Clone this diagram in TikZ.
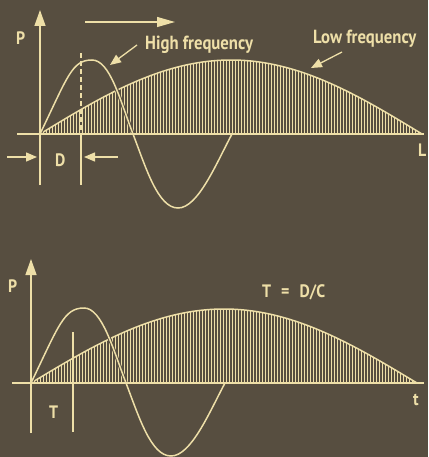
\documentclass[tikz,border=0pt]{standalone}
\usepackage{fontspec}
\setmainfont{PT Sans}
\newfontfamily\lblfont[FakeStretch=0.88]{PT Sans}
\usetikzlibrary{arrows.meta}
\definecolor{bg}{HTML}{574E40}
\definecolor{ink}{HTML}{EEDFA8}
\begin{document}
\begin{tikzpicture}[x=1pt,y=-1pt,
  axis/.style={draw=ink,line width=1.3pt},
  axtip/.style={-{Triangle[length=16pt,width=11pt]}},
  smalltip/.style={-{Triangle[length=11pt,width=9pt]}},
  wave/.style={draw=ink,line width=1.5pt},
  gap/.style={draw=bg,line width=3.5pt},
  hatch/.style={draw=ink,line width=0.6pt},
  mark line/.style={draw=ink,line width=1.1pt},
  lbl/.style={text=ink,inner sep=0pt,anchor=base west,font=\lblfont\bfseries\fontsize{18}{18}\selectfont},
  big/.style={lbl,font=\lblfont\bfseries\fontsize{19}{19}\selectfont}]
\fill[bg] (0,0) rectangle (428,457);
\useasboundingbox (0,0) rectangle (428,457);

% ---------------- top panel ----------------
\coordinate (ybot1) at (40,185);
\coordinate (ytop1) at (40,10);
\coordinate (xl1) at (17,134);
\coordinate (xr1) at (424,134);
\begin{scope}[shift={(40,134)}]
  \foreach \x in {3,6,...,381}
    \draw[hatch] (\x,0) -- (\x,{-74*sin(\x/382*180)});
  \draw[wave] plot[domain=0:382,samples=90] (\x,{-74*sin(\x/382*180)});
  \draw[gap] (0,0) .. controls (28,-58) and (32,-74) .. (52,-74)
     .. controls (70,-74) and (80,-34) .. (93,0)
     .. controls (106,34) and (118,74) .. (138,74)
     .. controls (158,74) and (176,30) .. (192,0);
  \draw[wave] (0,0) .. controls (28,-58) and (32,-74) .. (52,-74)
     .. controls (70,-74) and (80,-34) .. (93,0)
     .. controls (106,34) and (118,74) .. (138,74)
     .. controls (158,74) and (176,30) .. (192,0);
\end{scope}
\draw[axis,axtip] (ybot1) -- (ytop1);
\draw[axis] (xl1) -- (xr1);
\coordinate (dtop) at (81,53);
\coordinate (dmid) at (81,134);
\coordinate (dbot) at (81,185);
\draw[mark line,dash pattern=on 5pt off 3pt] (dtop) -- (dmid);
\draw[mark line] (dmid) -- (dbot);
\coordinate (fa) at (85,22);
\coordinate (fb) at (175,22);
\draw[axis,-{Triangle[length=18pt,width=10pt]}] (fa) -- (fb);
\coordinate (dla) at (7,157);
\coordinate (dlb) at (37,157);
\coordinate (dra) at (118,157);
\coordinate (drb) at (84,157);
\draw[axis,smalltip] (dla) -- (dlb);
\draw[axis,smalltip] (dra) -- (drb);
\node[lbl] (P1) at (16,45) {P};
\node[lbl] (D) at (55,167) {D};
\node[lbl] (L) at (418,157) {L};
\node[big] (hf) at (145,50) {High frequency};
\node[big] (lf) at (313,44) {Low frequency};
\coordinate (hfa) at (137,45);
\coordinate (hfb) at (110,65);
\coordinate (lfa) at (342,52);
\coordinate (lfb) at (311,68);
\draw[axis,smalltip] (hfa) -- (hfb);
\draw[axis,smalltip] (lfa) -- (lfb);

% ---------------- bottom panel ----------------
\coordinate (ybot2) at (31,433);
\coordinate (ytop2) at (31,259);
\coordinate (xl2) at (12,383);
\coordinate (xr2) at (424,383);
\begin{scope}[shift={(31,383)}]
  \foreach \x in {3,6,...,385}
    \draw[hatch] (\x,0) -- (\x,{-74*sin(\x/386*180)});
  \draw[wave] plot[domain=0:386,samples=90] (\x,{-74*sin(\x/386*180)});
  \draw[gap] (0,0) .. controls (28,-58) and (33,-75) .. (53,-75)
     .. controls (71,-75) and (82,-34) .. (95,0)
     .. controls (108,34) and (120,73) .. (140,73)
     .. controls (160,73) and (178,30) .. (194,0);
  \draw[wave] (0,0) .. controls (28,-58) and (33,-75) .. (53,-75)
     .. controls (71,-75) and (82,-34) .. (95,0)
     .. controls (108,34) and (120,73) .. (140,73)
     .. controls (160,73) and (178,30) .. (194,0);
\end{scope}
\draw[axis,axtip] (ybot2) -- (ytop2);
\draw[axis] (xl2) -- (xr2);
\coordinate (ttop) at (73,332);
\coordinate (tbot) at (73,432);
\draw[mark line] (ttop) -- (tbot);
\node[lbl] (P2) at (8,292) {P};
\node[lbl] (T) at (49,418) {T};
\node[lbl] (t) at (413,405) {t};
\node[lbl] (eq) at (262,297) {T\hspace{10pt}=\hspace{10pt}D/C};
\end{tikzpicture}
\end{document}
